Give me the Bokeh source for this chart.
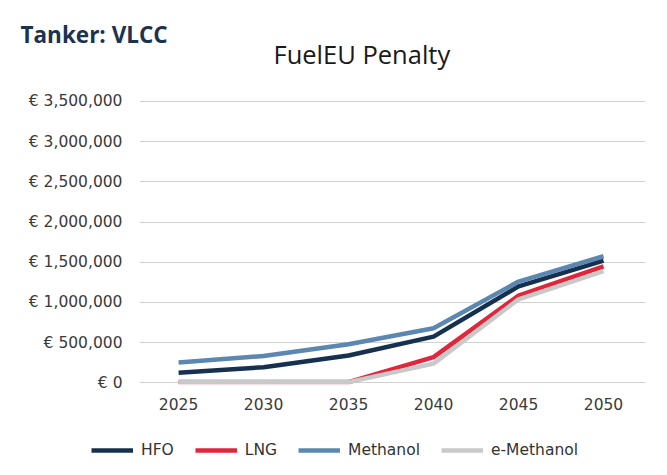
from bokeh.plotting import figure
from bokeh.models import Range1d, Legend, LegendItem, Title, FixedTicker
from bokeh.layouts import column
from bokeh.embed import file_html
from bokeh.resources import INLINE

# ---- data ----
years = [2025, 2030, 2035, 2040, 2045, 2050]
hfo = [125000, 195000, 340000, 575000, 1200000, 1520000]
lng = [10000, 10000, 10000, 320000, 1085000, 1450000]
methanol = [255000, 335000, 480000, 680000, 1260000, 1575000]
e_methanol = [10000, 10000, 10000, 240000, 1040000, 1390000]

y_ticks = [0, 500000, 1000000, 1500000, 2000000, 2500000, 3000000, 3500000]
y_tick_labels = ["€ 0", "€ 500,000", "€ 1,000,000", "€ 1,500,000",
                 "€ 2,000,000", "€ 2,500,000", "€ 3,000,000", "€ 3,500,000"]
x_tick_labels = ["2025", "2030", "2035", "2040", "2045", "2050"]

series_names = ["HFO", "LNG", "Methanol", "e-Methanol"]
colors = {"HFO": "#16314f", "LNG": "#e1263b", "Methanol": "#5c87b0", "e-Methanol": "#c9c9c9"}

FONT = "DejaVu Sans"

p = figure(width=667, height=429, output_backend="svg", toolbar_location=None,
           x_range=Range1d(2022.7, 2052.47), y_range=Range1d(-20000, 3537000),
           min_border_left=139, min_border_right=22, min_border_bottom=45,
           min_border_top=98)
p.frame_align = False
p.outline_line_color = None
p.background_fill_color = "white"
p.border_fill_color = "white"

# titles (p.title is the outermost one)
p.title.text = "Tanker: VLCC"
p.title.text_font = "Open Sans"
p.title.text_font_style = "bold"
p.title.text_font_size = "22.5px"
p.title.text_color = "#1b3250"
p.title.align = "left"
p.title.offset = -119
p.title.standoff = -30
spacer = Title(text=" ", text_font="Open Sans", text_font_size="10px", standoff=12)
p.add_layout(spacer, "above")
t2 = Title(text="FuelEU Penalty", text_font="Open Sans", text_font_style="normal",
           text_font_size="25.5px", text_color="#1a1a1a", align="left", offset=134,
           standoff=0)
p.add_layout(t2, "above")

# axes
p.xaxis.ticker = FixedTicker(ticks=years)
p.xaxis.major_label_overrides = {y: l for y, l in zip(years, x_tick_labels)}
p.yaxis.ticker = FixedTicker(ticks=y_ticks)
p.yaxis.major_label_overrides = {v: l for v, l in zip(y_ticks, y_tick_labels)}
for ax in (p.xaxis, p.yaxis):
    ax.axis_line_color = None
    ax.major_tick_line_color = None
    ax.minor_tick_line_color = None
    ax.major_tick_out = 0
    ax.major_tick_in = 0
    ax.minor_tick_out = 0
    ax.minor_tick_in = 0
    ax.major_label_text_font = FONT
    ax.major_label_text_font_size = "15.5px"
    ax.major_label_text_color = "#3a3a3a"
p.xaxis.major_label_standoff = 13
p.yaxis.major_label_standoff = 17

p.xgrid.grid_line_color = None
p.ygrid.ticker = FixedTicker(ticks=y_ticks)
p.ygrid.grid_line_color = "#d0d0d0"
p.ygrid.grid_line_width = 1

data = {"HFO": hfo, "LNG": lng, "Methanol": methanol, "e-Methanol": e_methanol}
for name in ["LNG", "e-Methanol", "HFO", "Methanol"]:
    p.line(years, data[name], line_color=colors[name], line_width=4.5,
           line_join="round", line_cap="butt")

# legend strip below the chart (same series, lines hidden, only the legend shows)
leg = figure(width=667, height=46, output_backend="svg", toolbar_location=None,
             x_range=Range1d(0, 1), y_range=Range1d(0, 1),
             x_axis_type=None, y_axis_type=None,
             min_border_left=0, min_border_right=0, min_border_top=0, min_border_bottom=0)
leg.frame_align = False
leg.outline_line_color = None
leg.xgrid.grid_line_color = None
leg.ygrid.grid_line_color = None
leg_renderers = {}
for name in series_names:
    leg_renderers[name] = leg.line(years, data[name], line_color=colors[name], line_width=4.5,
                                   visible=False)

legend = Legend(items=[LegendItem(label=n, renderers=[leg_renderers[n]]) for n in series_names],
                orientation="horizontal", location=(91, 15),
                glyph_width=42, glyph_height=20, label_standoff=8, spacing=21,
                padding=0, margin=0, border_line_color=None, background_fill_alpha=0,
                inactive_fill_alpha=0,
                label_text_font=FONT, label_text_font_size="15.5px", label_text_color="#333333")
leg.add_layout(legend, "center")

layout = column(p, leg, spacing=0)
open("out.html", "w").write(file_html(layout, INLINE))
